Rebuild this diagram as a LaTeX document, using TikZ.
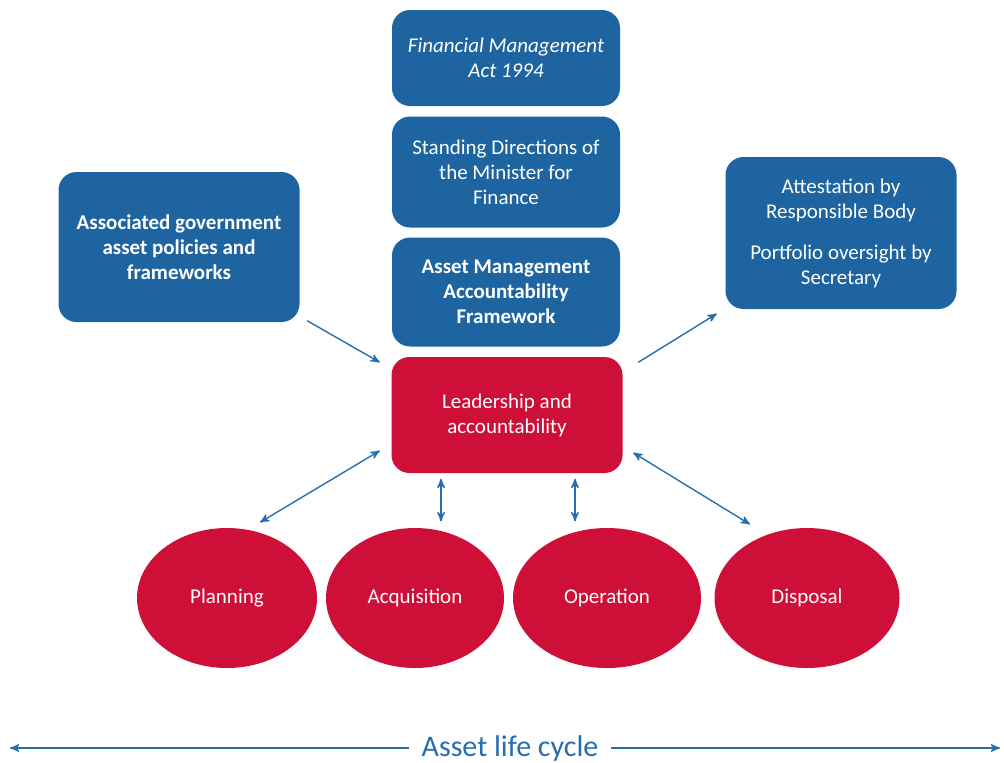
\documentclass[tikz,border=0pt]{standalone}
\usepackage{fontspec}
\setmainfont{Carlito}
\usetikzlibrary{arrows}
\usetikzlibrary{shapes.geometric}
\usetikzlibrary{calc}

\definecolor{amfblue}{RGB}{30,100,160}
\definecolor{amfred}{RGB}{206,16,57}
\definecolor{linkblue}{RGB}{40,110,175}

\begin{document}
\begin{tikzpicture}[x=0.5pt,y=-0.5pt,line width=0.7pt,>=stealth',
  box/.style={fill=amfblue,text=white,rounded corners=9pt,inner sep=0pt,
    align=center,font=\fontsize{10.5}{12.5}\selectfont},
  redbox/.style={box,fill=amfred},
  oval/.style={ellipse,fill=amfred,text=white,inner sep=0pt,
    font=\fontsize{10.5}{12.5}\selectfont},
  link/.style={linkblue,->},
  twolink/.style={linkblue,<->}]

  \useasboundingbox (0,0) rectangle (1004,762);

  % Column of frameworks above the centre
  \node[box,minimum width=114pt,minimum height=48pt] (fma) at (506,58)
    {\itshape Financial Management\\\itshape Act 1994};
  \node[box,minimum width=114pt,minimum height=55.5pt] (sdm) at (506,172)
    {Standing Directions of\\the Minister for\\Finance};
  \node[box,minimum width=114pt,minimum height=54.5pt] (amaf) at (506,292)
    {\bfseries Asset Management\\\bfseries Accountability\\\bfseries Framework};

  % Leadership in the middle
  \node[redbox,minimum width=115.5pt,minimum height=58pt] (lead) at (507,415)
    {Leadership and\\accountability};

  % Side boxes
  \node[box,minimum width=120.5pt,minimum height=75pt] (assoc) at (179,247)
    {\bfseries Associated government\\\bfseries asset policies and\\\bfseries frameworks};
  \node[box,minimum width=115.5pt,minimum height=76pt] (attest) at (841,233)
    {Attestation by\\Responsible Body\\[8pt]Portfolio oversight by\\Secretary};

  % Life cycle stages
  \node[oval,minimum width=90pt,minimum height=70pt] (plan) at (227,598) {Planning};
  \node[oval,minimum width=89pt,minimum height=70pt] (acq) at (415,598) {Acquisition};
  \node[oval,minimum width=94pt,minimum height=70pt] (oper) at (607,598) {Operation};
  \node[oval,minimum width=92.5pt,minimum height=70pt] (disp) at (807,598) {Disposal};

  % Arrows in and out of leadership
  \draw[link] ([shift={(7,-2)}]assoc.south east) -- ([shift={(-11,6)}]lead.north west);
  \draw[link] ([shift={(15,6)}]lead.north east) -- ([shift={(-8,4)}]attest.south west);

  % Arrows to the stages
  \draw[twolink] ([shift={(-11,-23)}]lead.south west) -- ([shift={(33,-5)}]plan.north);
  \draw[twolink] ([shift={(-66,5)}]lead.south) -- ([shift={(26,-6)}]acq.north);
  \draw[twolink] ([shift={(68,5)}]lead.south) -- ([shift={(-32,-6)}]oper.north);
  \draw[twolink] ([shift={(10,-21)}]lead.south east) -- ([shift={(-57,-3)}]disp.north);

  % Life cycle line along the bottom
  \node[text=linkblue,inner sep=6pt,font=\fontsize{15}{17}\selectfont] (cycle) at (510,748)
    {Asset life cycle};
  \coordinate (lend) at (10,748);
  \coordinate (rend) at (1000,748);
  \draw[link] (cycle.west) -- (lend);
  \draw[link] (cycle.east) -- (rend);

\end{tikzpicture}
\end{document}
